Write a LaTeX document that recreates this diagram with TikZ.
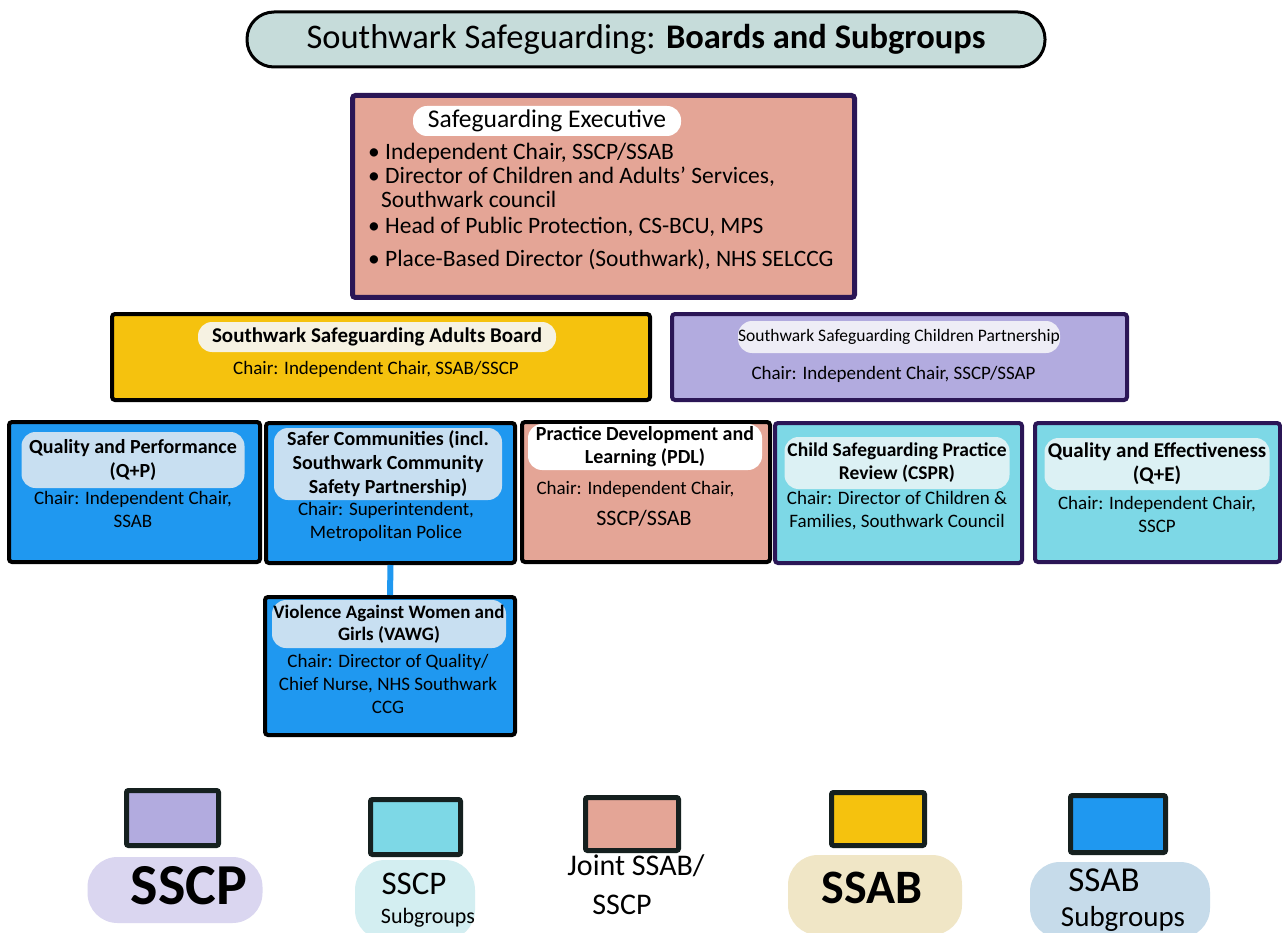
\documentclass[tikz,border=0pt]{standalone}
\usepackage{fontspec}
\setmainfont{Carlito}
\definecolor{salmon}{HTML}{E4A596}
\definecolor{gold}{HTML}{F5C20E}
\definecolor{lav}{HTML}{B2ABDF}
\definecolor{sgblue}{HTML}{1F98F0}
\definecolor{cyanb}{HTML}{7DD8E6}
\definecolor{dpurple}{HTML}{2B1656}
\definecolor{titlecol}{HTML}{C6DCDA}
\definecolor{edgedark}{HTML}{15201F}
\definecolor{bluepill}{HTML}{C8DFF1}
\definecolor{cyanpill}{HTML}{DCF1F4}
\definecolor{goldpill}{HTML}{F6F2E2}
\definecolor{lavpill}{HTML}{EEEDF6}
\definecolor{klav}{HTML}{DAD6F0}
\definecolor{kcyan}{HTML}{D3EEF1}
\definecolor{kgold}{HTML}{F0E6C6}
\definecolor{kblue}{HTML}{C6DBEA}
\newcommand\setfs[2]{\fontsize{#1}{#2}\selectfont}
\begin{document}
\begin{tikzpicture}[x=1pt,y=-1pt,
  box/.style={draw, line width=4pt, rounded corners=3pt, anchor=north west, inner sep=0pt},
  pill/.style={rounded corners=14pt, inner sep=0pt, align=center},
  hdr/.style={font=\setfs{19}{22}\bfseries, align=center},
  chair/.style={font=\setfs{19}{23}, align=center},
  bullet/.style={anchor=west, font=\setfs{23.5}{26}, inner sep=0pt},
  legsq/.style={draw=edgedark, line width=5pt, rounded corners=2pt, anchor=north west, inner sep=0pt, minimum width=92pt, minimum height=55pt},
  legpill/.style={rounded corners=30pt, inner sep=0pt},
  link/.style={draw=sgblue, line width=6pt}
]
\useasboundingbox (0,0) rectangle (1282,933);
\fill[white] (0,0) rectangle (1282,933);

% Title
\node[draw, line width=3pt, fill=titlecol, rounded corners=27pt, minimum width=798pt, minimum height=55pt, inner sep=0pt, font=\setfs{34.5}{38}] (title) at (646,39.5) {Southwark Safeguarding: \textbf{Boards and Subgroups}};

% Safeguarding Executive
\node[box, draw=dpurple, line width=5pt, fill=salmon, minimum width=502pt, minimum height=202pt] (exec) at (350,93) {};
\node[pill, fill=white, minimum width=268pt, minimum height=30pt, font=\setfs{25.5}{28}] (exech) at (547,121) {Safeguarding Executive};
\node[bullet] (e1) at (368,153) {• Independent Chair, SSCP/SSAB};
\node[bullet] (e2) at (368,177) {• Director of Children and Adults' Services,};
\node[bullet] (e3) at (381,199) {Southwark council};
\node[bullet] (e4) at (368,227) {• Head of Public Protection, CS-BCU, MPS};
\node[bullet] (e5) at (368,260) {• Place-Based Director (Southwark), NHS SELCCG};

% Boards
\node[box, fill=gold, minimum width=538pt, minimum height=86pt] (ssab) at (110,312) {};
\node[pill, fill=goldpill, minimum width=358pt, minimum height=30pt, hdr, font=\setfs{21}{24}\bfseries] (ssabh) at (377,337) {Southwark Safeguarding Adults Board};
\node[chair] (ssabc) at (376,369) {Chair: Independent Chair, SSAB/SSCP};

\node[box, draw=dpurple, fill=lav, minimum width=455pt, minimum height=86pt] (sscp) at (670,312) {};
\node[pill, fill=lavpill, minimum width=322pt, minimum height=32pt, font=\setfs{17.5}{20}] (sscph) at (899,337) {Southwark Safeguarding Children Partnership};
\node[chair, anchor=west] (sscpc) at (748,374) {Chair: Independent Chair, SSCP/SSAP};

% Subgroups
\node[box, fill=sgblue, minimum width=251pt, minimum height=140pt] (qp) at (7,420) {};
\node[pill, fill=bluepill, minimum width=223pt, minimum height=56pt, hdr, font=\setfs{20}{24}\bfseries] (qph) at (133,460) {Quality and Performance\\(Q+P)};
\node[chair] (qpc) at (133,509) {Chair: Independent Chair,\\SSAB};

\node[box, fill=sgblue, minimum width=249pt, minimum height=140pt] (safer) at (264,421) {};
\node[pill, fill=bluepill, minimum width=228pt, minimum height=72pt, hdr, font=\setfs{20}{24}\bfseries] (saferh) at (388,464) {Safer Communities (incl.\\Southwark Community\\Safety Partnership)};
\node[chair] (saferc) at (386,522) {Chair: Superintendent,\\Metropolitan Police};

\node[box, fill=salmon, minimum width=248pt, minimum height=140pt] (pdl) at (520,420) {};
\node[pill, fill=white, minimum width=234pt, minimum height=46pt, hdr, font=\setfs{20}{23}\bfseries] (pdlh) at (645,447) {Practice Development and\\Learning (PDL)};
\node[chair, anchor=west] (pdlc) at (533,489) {Chair: Independent Chair,};
\node[chair, font=\setfs{22}{24}] (pdlc2) at (644,518) {SSCP/SSAB};

\node[box, draw=dpurple, fill=cyanb, minimum width=247pt, minimum height=140pt] (cspr) at (773,421) {};
\node[pill, fill=cyanpill, minimum width=225pt, minimum height=52pt, hdr, font=\setfs{19.5}{23}\bfseries] (csprh) at (897,463) {Child Safeguarding Practice\\Review (CSPR)};
\node[chair] (csprc) at (897,511) {Chair: Director of Children \&\\Families, Southwark Council};

\node[box, draw=dpurple, fill=cyanb, minimum width=245pt, minimum height=139pt] (qe) at (1033,421) {};
\node[pill, fill=cyanpill, minimum width=225pt, minimum height=52pt, hdr, font=\setfs{21}{24}\bfseries] (qeh) at (1157,464) {Quality and Effectiveness\\(Q+E)};
\node[chair] (qec) at (1157,514) {Chair: Independent Chair,\\SSCP};

\node[box, fill=sgblue, minimum width=250pt, minimum height=138pt] (vawg) at (263,595) {};
\node[pill, fill=bluepill, minimum width=234pt, minimum height=48pt, hdr] (vawgh) at (389,624) {Violence Against Women and\\Girls (VAWG)};
\node[chair] (vawgc) at (388,684) {Chair: Director of Quality/\\Chief Nurse, NHS Southwark\\CCG};

\draw[link] (safer.south) -- (vawg.north);

% Legend
\node[legsq, fill=lav] (k1) at (124,788) {};
\node[legpill, fill=klav, minimum width=175pt, minimum height=66pt] (k1p) at (175,890) {};
\node[font=\setfs{58}{60}\bfseries, inner sep=0pt] (k1t) at (189,886) {SSCP};

\node[legsq, fill=cyanb, minimum width=90pt] (k2) at (368,797) {};
\node[legpill, fill=kcyan, minimum width=120pt, minimum height=80pt] (k2p) at (415,900) {};
\node[font=\setfs{33}{36}, inner sep=0pt] (k2t) at (414,884) {SSCP};
\node[font=\setfs{22}{24}, inner sep=0pt] (k2s) at (428,918) {Subgroups};

\node[legsq, fill=salmon, minimum width=93pt, minimum height=53pt] (k3) at (583,795) {};
\node[font=\setfs{30}{32}, inner sep=0pt] (k3t) at (636,866) {Joint SSAB/};
\node[font=\setfs{30}{32}, inner sep=0pt] (k3s) at (622,905) {SSCP};

\node[legsq, fill=gold, minimum width=93pt, minimum height=53pt] (k4) at (829,790) {};
\node[legpill, fill=kgold, minimum width=174pt, minimum height=80pt] (k4p) at (875,895) {};
\node[font=\setfs{48}{50}\bfseries, inner sep=0pt] (k4t) at (872,888) {SSAB};

\node[legsq, fill=sgblue, minimum width=95pt, minimum height=57pt] (k5) at (1068,793) {};
\node[legpill, fill=kblue, minimum width=180pt, minimum height=76pt] (k5p) at (1120,900) {};
\node[font=\setfs{35}{38}, inner sep=0pt] (k5t) at (1104,880) {SSAB};
\node[font=\setfs{29}{31}, inner sep=0pt] (k5s) at (1123,919) {Subgroups};
\end{tikzpicture}
\end{document}
